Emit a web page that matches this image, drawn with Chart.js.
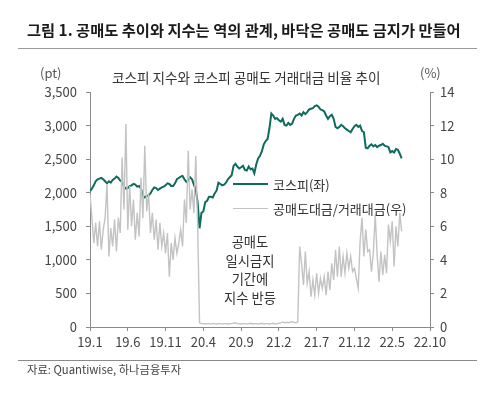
<!DOCTYPE html>
<html>
<head>
<meta charset="utf-8">
<script src="https://cdn.jsdelivr.net/npm/chart.js@4"></script>
<style>
  body { margin: 0; background: #fff; font-family: "Noto Sans CJK KR", sans-serif; }
  #wrap { position: relative; width: 490px; height: 402px; overflow: hidden; }
  canvas { position: absolute; left: 0; top: 0; }
  .t { position: absolute; white-space: nowrap; color: #333; line-height: 1; }
  .rule { position: absolute; left: 18px; width: 459px; height: 1px; background: #9a9a9a; }
  .key { position: absolute; left: 233px; width: 35px; }
</style>
</head>
<body>
<div id="wrap">
  <canvas id="chart" width="490" height="402"></canvas>

  <div class="t" style="left:27px;top:22px;font-size:15.3px;font-weight:700;color:#1a1a1a">그림 1. 공매도 추이와 지수는 역의 관계, 바닥은 공매도 금지가 만들어</div>
  <div class="rule" style="top:48px"></div>

  <div class="t" style="left:40px;top:66px;font-size:13px;color:#555">(pt)</div>
  <div class="t" style="left:420px;top:66px;font-size:13px;color:#555">(%)</div>
  <div class="t" style="left:112px;top:71px;font-size:13.6px">코스피 지수와 코스피 공매도 거래대금 비율 추이</div>

  <div class="key" style="top:183px;height:2px;background:#0f6b5c"></div>
  <div class="t" style="left:273px;top:178px;font-size:13px">코스피(좌)</div>
  <div class="key" style="top:208px;height:1px;background:#c3c3c3"></div>
  <div class="t" style="left:273px;top:202px;font-size:13px">공매도대금/거래대금(우)</div>

  <div class="t" style="left:200px;top:233px;width:100px;text-align:center;font-size:13.3px;line-height:18.5px">공매도<br>일시금지<br>기간에<br>지수 반등</div>

  <div class="rule" style="top:360px;background:#8a8a8a"></div>
  <div class="t" style="left:27px;top:364px;font-size:11.3px;color:#444">자료: Quantiwise, 하나금융투자</div>
</div>

<script>
// x axis: months since 2019.1, one tick every 5 months
const xLabels = ['19.1', '19.6', '19.11', '20.4', '20.9', '21.2', '21.7', '21.12', '22.5', '22.10'];

// KOSPI, 4 readings per month (pt)
const kospi2019 = [2025, 2060, 2110, 2170, 2200, 2210, 2220, 2200, 2170, 2140, 2170, 2150,
  2190, 2210, 2240, 2220, 2180, 2160, 2090, 2060, 2070, 2100, 2110, 2130,
  2120, 2090, 2100, 2060, 1960, 1930, 1950, 1960, 1990, 2040, 2080, 2070,
  2040, 2060, 2080, 2090, 2110, 2140, 2130, 2100, 2100, 2140, 2200, 2220];
const kospi2020 = [2240, 2250, 2200, 2160, 2190, 2230, 2200, 2120, 2050, 1850, 1470, 1700,
  1720, 1860, 1880, 1940, 1940, 1930, 1990, 2030, 2150, 2130, 2110, 2120,
  2150, 2200, 2230, 2260, 2400, 2430, 2390, 2360, 2380, 2400, 2340, 2330,
  2390, 2350, 2360, 2290, 2420, 2510, 2550, 2620, 2720, 2770, 2800, 2960];
const kospi2021 = [3180, 3150, 3100, 3110, 3080, 3060, 3100, 3010, 3000, 3040, 3010, 3030,
  3100, 3150, 3160, 3180, 3150, 3200, 3170, 3200, 3240, 3250, 3260, 3290,
  3300, 3280, 3240, 3230, 3210, 3150, 3100, 3140, 3160, 3100, 2980, 2960,
  2980, 3010, 2990, 2960, 2940, 2920, 2900, 2950, 2990, 3010, 2980, 3000];
const kospi2022 = [2920, 2900, 2670, 2660, 2700, 2720, 2690, 2710, 2680, 2700, 2710, 2730,
  2700, 2690, 2680, 2600, 2620, 2600, 2650, 2640, 2580, 2510];

// short selling value / trading value, 4 readings per month (%)
const short2019 = [7.9, 6.5, 5.0, 6.2, 4.8, 6.3, 4.6, 5.8, 6.5, 8.5, 4.2, 5.9,
  4.8, 6.4, 4.5, 6.5, 5.6, 10.1, 7.0, 12.1, 5.8, 8.4, 6.0, 7.6,
  5.2, 6.8, 5.4, 8.9, 6.5, 10.8, 6.9, 8.0, 5.6, 6.8, 5.2, 6.4,
  4.6, 6.2, 4.8, 5.6, 4.4, 5.6, 3.0, 5.0, 4.0, 5.3, 4.4, 5.0];
const short2020 = [5.8, 4.8, 7.6, 6.2, 10.5, 7.0, 8.2, 6.8, 10.2, 6.0, 0.25, 0.2,
  0.2, 0.18, 0.2, 0.2, 0.17, 0.2, 0.2, 0.18, 0.2, 0.2, 0.17, 0.2,
  0.2, 0.18, 0.2, 0.2, 0.22, 0.25, 0.2, 0.2, 0.18, 0.2, 0.2, 0.17,
  0.2, 0.22, 0.18, 0.2, 0.2, 0.18, 0.2, 0.22, 0.18, 0.2, 0.2, 0.18];
const short2021 = [0.2, 0.22, 0.18, 0.2, 0.22, 0.25, 0.3, 0.25, 0.28, 0.25, 0.3, 0.32,
  0.28, 0.25, 0.3, 4.8, 3.8, 2.5, 4.5, 2.6, 3.3, 1.8, 2.8, 1.9,
  3.2, 2.0, 2.9, 2.3, 3.0, 1.9, 3.3, 2.2, 3.8, 2.8, 4.6, 3.0,
  4.8, 3.0, 4.2, 3.2, 4.4, 3.5, 4.2, 3.3, 3.5, 2.9, 2.3, 5.1];
const short2022 = [6.5, 4.2, 5.8, 4.5, 4.6, 3.3, 4.4, 6.7, 4.3, 2.7, 4.5, 3.1,
  4.3, 3.2, 6.1, 5.1, 6.3, 3.6, 6.0, 4.8, 6.8, 5.7];

function toPoints(years) {
  const pts = [];
  years.forEach((arr, yi) => {
    arr.forEach((v, i) => pts.push({ x: yi * 12 + i / 4, y: v }));
  });
  return pts;
}

const kospiPts = toPoints([kospi2019, kospi2020, kospi2021, kospi2022]);
const shortPts = toPoints([short2019, short2020, short2021, short2022]);

const tickFont = { family: '"Noto Sans CJK KR", sans-serif', size: 13 };
const axisColor = '#8a8a8a';

new Chart(document.getElementById('chart'), {
  type: 'line',
  data: {
    datasets: [
      {
        label: '공매도대금/거래대금(우)',
        data: shortPts,
        yAxisID: 'y2',
        borderColor: '#c3c3c3',
        borderWidth: 1.4,
        pointRadius: 0,
        order: 0
      },
      {
        label: '코스피(좌)',
        data: kospiPts,
        yAxisID: 'y',
        borderColor: '#0f6b5c',
        borderWidth: 2,
        pointRadius: 0,
        order: 1
      }
    ]
  },
  options: {
    responsive: false,
    animation: false,
    devicePixelRatio: 1,
    layout: { padding: { top: 92, bottom: 45, left: 0, right: 0 } },
    plugins: { legend: { display: false }, tooltip: { enabled: false } },
    scales: {
      x: {
        type: 'linear',
        min: 0,
        max: 45,
        ticks: {
          stepSize: 5,
          autoSkip: false,
          maxRotation: 0,
          padding: 3,
          color: '#444',
          font: tickFont,
          callback: (v) => xLabels[Math.round(v / 5)]
        },
        grid: { drawOnChartArea: false, tickLength: 4, color: axisColor },
        border: { color: axisColor },
        afterFit: (s) => { s.height = 30; }
      },
      y: {
        position: 'left',
        min: 0,
        max: 3500,
        ticks: {
          stepSize: 500,
          padding: 9,
          color: '#444',
          font: tickFont,
          callback: (v) => v.toLocaleString('en-US')
        },
        grid: { drawOnChartArea: false, tickLength: 4, color: axisColor },
        border: { color: axisColor },
        afterFit: (s) => { s.width = 90; }
      },
      y2: {
        position: 'right',
        min: 0,
        max: 14,
        ticks: { stepSize: 2, padding: 6, color: '#444', font: tickFont },
        grid: { drawOnChartArea: false, tickLength: 4, color: axisColor },
        border: { color: axisColor },
        afterFit: (s) => { s.width = 60; }
      }
    }
  }
});
</script>
</body>
</html>
